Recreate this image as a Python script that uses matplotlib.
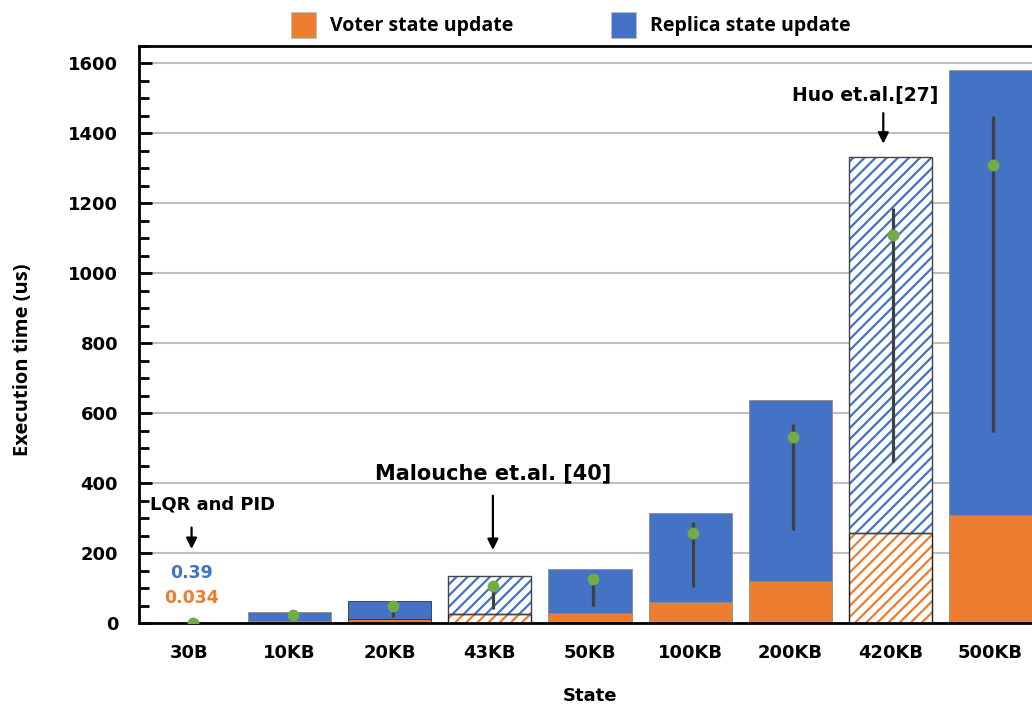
import matplotlib
matplotlib.use("Agg")
import matplotlib.pyplot as plt
from matplotlib.patches import Patch
from matplotlib.ticker import MultipleLocator

# データ
states = ["30B", "10KB", "20KB", "43KB", "50KB", "100KB", "200KB", "420KB", "500KB"]
voter = [0.034, 6.5, 13, 26.5, 31, 62.5, 122, 259, 309]
replica = [0.39, 25.5, 52.5, 109.5, 126, 253.5, 517, 1075, 1271]
point = [0.4, 23, 51, 108, 127, 259, 532, 1111, 1310]
low = [0.4, 10, 18, 42, 49, 105, 266, 460, 547]
high = [0.4, 25, 55, 112, 130, 290, 570, 1186, 1449]
hatched = ["43KB", "420KB"]

orange = "#ED7D31"
blue = "#4472C4"

plt.rcParams["hatch.linewidth"] = 1.6

fig = plt.figure(figsize=(10.32, 7.06), dpi=100)
ax = fig.add_axes([0.1347, 0.1169, 0.8735, 0.8180])

x = list(range(len(states)))
w = 0.83
for i, s in enumerate(states):
    if s in hatched:
        ax.bar(i, voter[i], w, color="white", edgecolor=orange, hatch="///", lw=0, zorder=2)
        ax.bar(i, replica[i], w, bottom=voter[i], color="white", edgecolor=blue,
               hatch="///", lw=0, zorder=2)
        ax.bar(i, voter[i], w, fill=False, edgecolor="#222222", lw=1.0, zorder=3)
        ax.bar(i, replica[i], w, bottom=voter[i], fill=False, edgecolor="#444444", lw=1.0, zorder=3)
    else:
        ec = "#333333" if s == "20KB" else "#8c8c8c"
        ax.bar(i, voter[i], w, color=orange, edgecolor=ec, lw=0.6, zorder=2)
        ax.bar(i, replica[i], w, bottom=voter[i], color=blue, edgecolor=ec, lw=0.6, zorder=2)

# 誤差棒と点
xe = [i + 0.03 for i in x]
yerr = [[p - l for p, l in zip(point, low)], [h - p for p, h in zip(point, high)]]
ax.errorbar(xe, point, yerr=yerr, fmt="none", ecolor="#404040", elinewidth=2.3,
            capsize=0, zorder=4)
ax.plot(xe, point, "o", color="#70AD47", markersize=7.5, zorder=5)

ax.set_xlim(-0.505, 8.5)
ax.set_ylim(0, 1650)
ax.set_xticks(x)
ax.set_xticklabels(states, fontsize=13, fontweight="bold")
ax.tick_params(axis="x", length=0, pad=15)
ax.yaxis.set_major_locator(MultipleLocator(200))
ax.yaxis.set_minor_locator(MultipleLocator(50))
ax.tick_params(axis="y", which="major", direction="in", length=9, width=2, labelsize=13, pad=15)
ax.tick_params(axis="y", which="minor", direction="in", length=7, width=2)
for t in ax.get_yticklabels():
    t.set_fontweight("bold")
ax.grid(axis="y", color="#bfbfbf", lw=1.5, zorder=0)
ax.set_axisbelow(True)
for sp in ["left", "top", "bottom"]:
    ax.spines[sp].set_linewidth(2)
ax.spines["right"].set_visible(False)

ax.set_ylabel("Execution time (us)", fontsize=14.5, fontweight="bold", family="Open Sans")
ax.yaxis.set_label_coords(-0.118, 0.457)
ax.set_xlabel("State", fontsize=13, fontweight="bold", labelpad=18)

# 注釈
arrow = dict(arrowstyle="-|>", color="black", lw=1.6, mutation_scale=16)
ax.text(0.23, 339, "LQR and PID", ha="center", va="center", fontsize=13, fontweight="bold")
ax.annotate("", xy=(0.02, 205), xytext=(0.02, 282), arrowprops=arrow)
ax.text(0.015, 144, "0.39", color=blue, ha="center", va="center", fontsize=12.5, fontweight="bold")
ax.text(0.015, 73, "0.034", color=orange, ha="center", va="center", fontsize=12.5, fontweight="bold")

ax.text(3.03, 430, "Malouche et.al. [40]", ha="center", va="center", fontsize=15, fontweight="bold")
ax.annotate("", xy=(3.03, 202), xytext=(3.03, 373), arrowprops=arrow)

ax.text(6.75, 1508, "Huo et.al.[27]", ha="center", va="center", fontsize=13.5, fontweight="bold")
ax.annotate("", xy=(6.93, 1363), xytext=(6.93, 1466), arrowprops=arrow)

handles = [Patch(facecolor=orange, edgecolor="#bfbfbf", lw=0.5),
           Patch(facecolor=blue, edgecolor="#bfbfbf", lw=0.5)]
fig.legend(handles, ["Voter state update", "Replica state update"], loc="center",
           bbox_to_anchor=(0.553, 0.965), ncol=2, frameon=False,
           prop={"family": "Open Sans", "weight": "bold", "size": 14},
           handlelength=1.3, handleheight=1.65, handletextpad=0.7, columnspacing=5.0)

fig.savefig("out.png", dpi=100)
